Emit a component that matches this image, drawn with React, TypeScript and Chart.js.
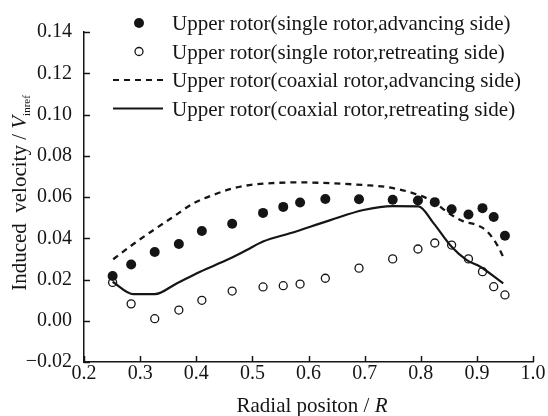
import React, { useEffect, useRef } from "react";
import { Chart, registerables } from "chart.js";

Chart.register(...registerables);

// Radial stations of the single-rotor measurements (r/R)
const radialStations = [0.251, 0.284, 0.326, 0.369, 0.41, 0.464, 0.519, 0.555, 0.585, 0.63, 0.69, 0.75, 0.795, 0.825, 0.855, 0.885, 0.91, 0.93, 0.95];
// Single rotor, advancing side
const singleAdvancing = [0.0217, 0.0273, 0.0333, 0.0372, 0.0435, 0.047, 0.0523, 0.0552, 0.0573, 0.059, 0.0589, 0.0587, 0.0583, 0.0575, 0.0541, 0.0515, 0.0546, 0.0503, 0.0412];
// Single rotor, retreating side
const singleRetreating = [0.0186, 0.0082, 0.001, 0.0052, 0.0099, 0.0144, 0.0164, 0.017, 0.0178, 0.0206, 0.0255, 0.03, 0.0348, 0.0377, 0.0367, 0.03, 0.0238, 0.0165, 0.0125];

// Coaxial rotor, advancing side (upper rotor)
const coaxAdvR = [0.252, 0.288, 0.324, 0.359, 0.395, 0.43, 0.466, 0.5, 0.54, 0.579, 0.639, 0.698, 0.74, 0.787, 0.823, 0.846, 0.876, 0.9, 0.918, 0.936, 0.947];
const coaxAdvV = [0.0298, 0.0372, 0.044, 0.0504, 0.0569, 0.061, 0.0642, 0.066, 0.0668, 0.0671, 0.0667, 0.0658, 0.0648, 0.0618, 0.0577, 0.0529, 0.0482, 0.0464, 0.0434, 0.0368, 0.031];

// Coaxial rotor, retreating side (upper rotor)
const coaxRetR = [0.251, 0.288, 0.326, 0.365, 0.407, 0.454, 0.49, 0.52, 0.567, 0.639, 0.698, 0.75, 0.796, 0.823, 0.855, 0.882, 0.906, 0.947];
const coaxRetV = [0.0189, 0.0129, 0.0129, 0.0181, 0.0238, 0.0294, 0.0343, 0.0385, 0.0424, 0.0488, 0.0537, 0.0556, 0.0555, 0.0472, 0.0359, 0.0294, 0.0262, 0.0181];

const legendLabels = [
  "Upper rotor(single rotor,advancing side)",
  "Upper rotor(single rotor,retreating side)",
  "Upper rotor(coaxial rotor,advancing side)",
  "Upper rotor(coaxial rotor,retreating side)",
];

const FONT = "'Liberation Serif', 'Times New Roman', serif";
const INK = "#151515";

const pairs = (xs: number[], ys: number[]) => xs.map((x, i) => ({ x, y: ys[i] }));

const decorations = {
  id: "decorations",
  afterDraw(chart: any) {
    const ctx = chart.ctx as CanvasRenderingContext2D;
    const { left, bottom } = chart.chartArea;
    const xs = chart.scales.x;
    const ys = chart.scales.y;
    ctx.save();
    ctx.strokeStyle = INK;
    ctx.lineWidth = 1.5;
    // inward tick marks
    ys.ticks.forEach((t: any) => {
      const py = Math.round(ys.getPixelForValue(t.value)) + 0.5;
      ctx.beginPath();
      ctx.moveTo(left, py);
      ctx.lineTo(left + 6, py);
      ctx.stroke();
    });
    xs.ticks.forEach((t: any) => {
      const px = Math.round(xs.getPixelForValue(t.value)) + 0.5;
      ctx.beginPath();
      ctx.moveTo(px, bottom);
      ctx.lineTo(px, bottom - 6);
      ctx.stroke();
    });

    ctx.fillStyle = INK;
    // x title
    ctx.textBaseline = "alphabetic";
    ctx.textAlign = "left";
    const xa = "Radial positon / ";
    ctx.font = `21px ${FONT}`;
    const wa = ctx.measureText(xa).width;
    ctx.font = `italic 21px ${FONT}`;
    const wb = ctx.measureText("R").width;
    const sx = 312 - (wa + wb) / 2;
    ctx.font = `21px ${FONT}`;
    ctx.fillText(xa, sx, 412);
    ctx.font = `italic 21px ${FONT}`;
    ctx.fillText("R", sx + wa, 412);

    // y title, rotated
    ctx.save();
    ctx.translate(26, 193);
    ctx.rotate(-Math.PI / 2);
    const ya = "Induced  velocity / ";
    ctx.font = `21px ${FONT}`;
    const w1 = ctx.measureText(ya).width;
    ctx.font = `italic 21px ${FONT}`;
    const w2 = ctx.measureText("V").width;
    ctx.font = `11px ${FONT}`;
    const w3 = ctx.measureText("inref").width;
    const s = -(w1 + w2 + w3) / 2;
    ctx.font = `21px ${FONT}`;
    ctx.fillText(ya, s, 0);
    ctx.font = `italic 21px ${FONT}`;
    ctx.fillText("V", s + w1, 0);
    ctx.font = `11px ${FONT}`;
    ctx.fillText("inref", s + w1 + w2, 4);
    ctx.restore();

    // legend
    const rows = [23, 51.5, 80, 108.5];
    ctx.font = `21px ${FONT}`;
    ctx.textAlign = "left";
    rows.forEach((ry, i) => {
      ctx.fillStyle = INK;
      ctx.fillText(legendLabels[i], 172, ry + 7);
      if (i === 0) {
        ctx.beginPath();
        ctx.arc(139, ry, 5, 0, Math.PI * 2);
        ctx.fill();
      } else if (i === 1) {
        ctx.beginPath();
        ctx.lineWidth = 1.3;
        ctx.arc(139, ry, 4, 0, Math.PI * 2);
        ctx.fillStyle = "#fff";
        ctx.fill();
        ctx.stroke();
      } else {
        ctx.beginPath();
        ctx.lineWidth = 2.2;
        ctx.setLineDash(i === 2 ? [6, 5] : []);
        ctx.moveTo(113, ry);
        ctx.lineTo(163, ry);
        ctx.stroke();
        ctx.setLineDash([]);
      }
    });
    ctx.restore();
  },
};

export default function App() {
  const ref = useRef<HTMLCanvasElement>(null);

  useEffect(() => {
    if (!ref.current) return;
    const chart = new Chart(ref.current, {
      type: "line",
      data: {
        datasets: [
          {
            label: legendLabels[2],
            data: pairs(coaxAdvR, coaxAdvV),
            borderColor: INK,
            borderWidth: 2.3,
            borderDash: [6, 5],
            pointRadius: 0,
            cubicInterpolationMode: "monotone",
            fill: false,
          },
          {
            label: legendLabels[3],
            data: pairs(coaxRetR, coaxRetV),
            borderColor: INK,
            borderWidth: 2.2,
            pointRadius: 0,
            cubicInterpolationMode: "monotone",
            fill: false,
          },
          {
            label: legendLabels[0],
            data: pairs(radialStations, singleAdvancing),
            showLine: false,
            pointRadius: 5,
            pointBackgroundColor: INK,
            pointBorderWidth: 0,
            borderColor: INK,
          },
          {
            label: legendLabels[1],
            data: pairs(radialStations, singleRetreating),
            showLine: false,
            pointRadius: 4,
            pointBackgroundColor: "#fff",
            pointBorderColor: INK,
            pointBorderWidth: 1.3,
            borderColor: INK,
          },
        ],
      },
      options: {
        responsive: false,
        animation: false,
        events: [],
        layout: { padding: { top: 32, right: 15, left: 0, bottom: 0 } },
        plugins: { legend: { display: false }, tooltip: { enabled: false } },
        scales: {
          x: {
            type: "linear",
            min: 0.2,
            max: 1.0,
            ticks: {
              stepSize: 0.1,
              color: INK,
              padding: 0,
              font: { family: FONT, size: 20 },
              callback: (v: any) => Number(v).toFixed(1),
            },
            grid: { display: true, drawOnChartArea: false, drawTicks: false },
            border: { display: true, color: INK, width: 1.5 },
            afterFit: (s: any) => {
              s.height = 54;
            },
          },
          y: {
            min: -0.02,
            max: 0.14,
            ticks: {
              stepSize: 0.02,
              color: INK,
              padding: 12,
              font: { family: FONT, size: 20 },
              callback: (v: any) => {
                const n = Number(v);
                return n < -1e-9 ? "\u2212" + Math.abs(n).toFixed(2) : Math.abs(n).toFixed(2);
              },
            },
            grid: { display: true, drawOnChartArea: false, drawTicks: false },
            border: { display: true, color: INK, width: 1.5 },
            afterFit: (s: any) => {
              s.width = 84;
            },
          },
        },
      },
      plugins: [decorations],
    });
    return () => chart.destroy();
  }, []);

  return (
    <div style={{ position: "fixed", left: 0, top: 0, width: 548, height: 416, background: "#fff" }}>
      <canvas ref={ref} width={548} height={416} />
    </div>
  );
}
